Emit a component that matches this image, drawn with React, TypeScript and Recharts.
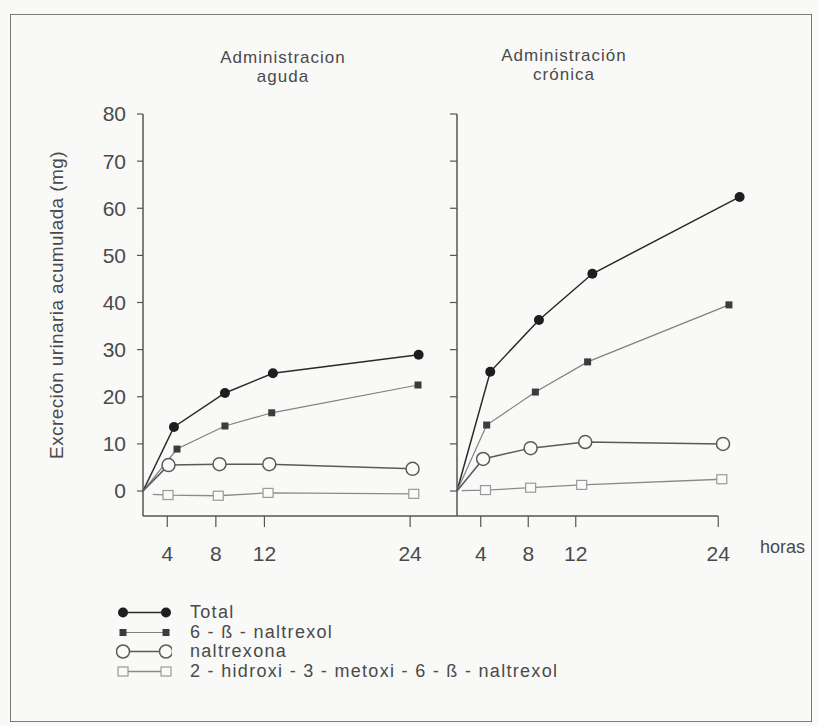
import React from 'react'
import { LineChart, Line, XAxis, YAxis, ReferenceLine } from 'recharts'

const FONT = "'Liberation Sans', Arial, Helvetica, sans-serif"
const INK = '#4a4a4a'

const SERIES_NAMES = ['Total', '6 - ß - naltrexol', 'naltrexona', '2 - hidroxi - 3 - metoxi - 6 - ß - naltrexol']
const HOUR_TICKS = [4, 8, 12, 24]
const MG_TICKS = [0, 10, 20, 30, 40, 50, 60, 70, 80]

// Administración aguda (hours, mg)
const agudaTotalH = [2, 4.55, 8.75, 12.7, 24.7]
const agudaTotalV = [0, 13.6, 20.8, 25.0, 28.9]
const agudaNaltrexolH = [2, 4.8, 8.75, 12.6, 24.65]
const agudaNaltrexolV = [0, 8.9, 13.8, 16.6, 22.5]
const agudaNaltrexonaH = [2, 4.1, 8.3, 12.4, 24.2]
const agudaNaltrexonaV = [0, 5.5, 5.7, 5.7, 4.7]
const agudaHidroxiH = [2.8, 4.06, 8.2, 12.3, 24.3]
const agudaHidroxiV = [-0.7, -0.85, -1.0, -0.4, -0.6]

// Administración crónica
const cronicaTotalH = [2, 4.8, 8.9, 13.4, 25.8]
const cronicaTotalV = [0, 25.3, 36.3, 46.1, 62.4]
const cronicaNaltrexolH = [2, 4.5, 8.6, 13.0, 24.9]
const cronicaNaltrexolV = [0, 14.0, 21.0, 27.4, 39.5]
const cronicaNaltrexonaH = [2, 4.2, 8.2, 12.8, 24.4]
const cronicaNaltrexonaV = [0, 6.8, 9.1, 10.4, 10.0]
const cronicaHidroxiH = [2.4, 4.4, 8.2, 12.5, 24.3]
const cronicaHidroxiV = [0.1, 0.2, 0.7, 1.3, 2.5]

const zip = (h: number[], v: number[]) => h.map((x, i) => ({ h: x, v: v[i] }))

const aguda = [
  zip(agudaTotalH, agudaTotalV),
  zip(agudaNaltrexolH, agudaNaltrexolV),
  zip(agudaNaltrexonaH, agudaNaltrexonaV),
  zip(agudaHidroxiH, agudaHidroxiV),
]
const cronica = [
  zip(cronicaTotalH, cronicaTotalV),
  zip(cronicaNaltrexolH, cronicaNaltrexolV),
  zip(cronicaNaltrexonaH, cronicaNaltrexonaV),
  zip(cronicaHidroxiH, cronicaHidroxiV),
]

const lineStyle = [
  { stroke: '#2a2a2a', width: 1.5 },
  { stroke: '#808080', width: 1.2 },
  { stroke: '#5a5a5a', width: 1.5 },
  { stroke: '#8a8a8a', width: 1.3 },
]

function marker(kind: number, cx: number, cy: number, key?: string) {
  if (kind === 0) return <circle key={key} cx={cx} cy={cy} r={5} fill="#1e1e1e" />
  if (kind === 1) return <rect key={key} x={cx - 3.5} y={cy - 3.5} width={7} height={7} fill="#3c3c3c" />
  if (kind === 2) return <circle key={key} cx={cx} cy={cy} r={6.5} fill="#fafaf8" stroke="#5a5a5a" strokeWidth={1.5} />
  return <rect key={key} x={cx - 5} y={cy - 4.5} width={10} height={9} fill="#fafaf8" stroke="#999" strokeWidth={1.2} />
}

const dotFor = (kind: number) => (props: any) => {
  const { cx, cy, index } = props
  if (index === 0 || cx == null) return <g key={`d${kind}-${index}`} />
  return marker(kind, cx, cy, `d${kind}-${index}`)
}

const tickStyle = { fill: INK, fontSize: 21, fontFamily: FONT }

function Panel({ series, domain, margin, labels, ownAxisLine }: any) {
  return (
    <LineChart width={818} height={726} margin={margin} style={{ position: 'absolute', left: 0, top: 0 }}>
      <XAxis
        type="number"
        dataKey="h"
        domain={domain}
        ticks={HOUR_TICKS}
        height={40}
        tickSize={11}
        tickMargin={19}
        tick={tickStyle}
        axisLine={ownAxisLine ? { stroke: '#555', strokeWidth: 1.5 } : false}
        tickLine={{ stroke: '#555', strokeWidth: 1.2 }}
      />
      <YAxis
        type="number"
        dataKey="v"
        domain={[-5.3, 80]}
        ticks={MG_TICKS}
        width={60}
        tickSize={labels ? 6 : 7}
        tickMargin={11}
        tick={tickStyle}
        tickFormatter={labels ? undefined : () => ''}
        axisLine={{ stroke: '#555', strokeWidth: 1.5 }}
        tickLine={{ stroke: '#555', strokeWidth: 1.2 }}
      />
      {!ownAxisLine && (
        <ReferenceLine
          segment={[{ x: 2, y: -5.3 }, { x: 24, y: -5.3 }]}
          stroke="#555"
          strokeWidth={1.5}
        />
      )}
      {series.map((d: any[], i: number) => (
        <Line
          key={i}
          data={d}
          dataKey="v"
          type="linear"
          stroke={lineStyle[i].stroke}
          strokeWidth={lineStyle[i].width}
          dot={dotFor(i)}
          activeDot={false}
          isAnimationActive={false}
        />
      ))}
    </LineChart>
  )
}

export default function App() {
  const text = { position: 'absolute' as const, fontFamily: FONT, color: INK }
  return (
    <div style={{ position: 'absolute', left: 0, top: 0, width: 818, height: 726, background: '#f9f9f7', overflow: 'hidden' }}>
      <div style={{ position: 'absolute', left: 10, top: 14, width: 800, height: 706, border: '1.5px solid #7a7a7a' }} />

      <div style={{ ...text, left: 183, top: 48, width: 200, textAlign: 'center', fontSize: 17, lineHeight: '19px', letterSpacing: 1 }}>
        Administracion<br />aguda
      </div>
      <div style={{ ...text, left: 464, top: 46, width: 200, textAlign: 'center', fontSize: 17, lineHeight: '19px', letterSpacing: 1 }}>
        Administración<br />crónica
      </div>

      <div
        style={{
          ...text,
          left: 57,
          top: 305,
          fontSize: 19,
          letterSpacing: 0.4,
          whiteSpace: 'nowrap',
          transform: 'translate(-50%, -50%) rotate(-90deg)',
        }}
      >
        Excreción urinaria acumulada (mg)
      </div>

      <Panel series={aguda} domain={[2, 27.86]} margin={{ top: 114, right: 361, bottom: 170, left: 83 }} labels ownAxisLine />
      <Panel series={cronica} domain={[2, 26]} margin={{ top: 114, right: 76, bottom: 170, left: 397 }} labels={false} ownAxisLine={false} />

      <div style={{ ...text, left: 760, top: 537, fontSize: 18 }}>horas</div>

      <div style={{ position: 'absolute', left: 116, top: 603 }}>
        {SERIES_NAMES.map((name, i) => (
          <div key={name} style={{ display: 'flex', alignItems: 'center', height: 19.5 }}>
            <svg width={56} height={19} style={{ flex: 'none' }}>
              <line x1={6} y1={9.5} x2={50} y2={9.5} stroke={lineStyle[i].stroke} strokeWidth={lineStyle[i].width} />
              {marker(i, 7, 9.5)}
              {marker(i, 50, 9.5)}
            </svg>
            <span style={{ fontFamily: FONT, color: INK, fontSize: 18, letterSpacing: 1.3, marginLeft: 18, whiteSpace: 'nowrap' }}>{name}</span>
          </div>
        ))}
      </div>
    </div>
  )
}
